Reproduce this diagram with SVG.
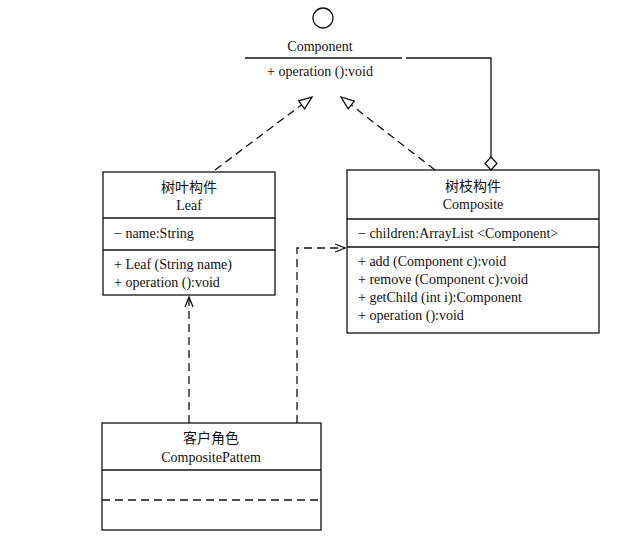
<svg xmlns="http://www.w3.org/2000/svg" width="638" height="539" viewBox="0 0 638 539">
<style>
text{font-family:"Liberation Serif","Noto Sans CJK SC",serif;font-size:14px;fill:#111}
.c{text-anchor:middle}
.b{fill:#fff;stroke:#111;stroke-width:1.3}
.l{stroke:#111;stroke-width:1.3;fill:none}
.d{stroke:#111;stroke-width:1.3;fill:none;stroke-dasharray:8 5}
</style>
<defs>
<marker id="tri" markerWidth="16" markerHeight="16" refX="14" refY="6" orient="auto" markerUnits="userSpaceOnUse"><path d="M1,1 L14,6 L1,11 Z" fill="#fff" stroke="#111" stroke-width="1.3"/></marker>
<marker id="open" markerWidth="14" markerHeight="14" refX="11" refY="5" orient="auto" markerUnits="userSpaceOnUse"><path d="M1,1 L11,5 L1,9" fill="none" stroke="#111" stroke-width="1.3"/></marker>
</defs>
<rect width="638" height="539" fill="#fff"/>
<g id="component">
<circle cx="323" cy="18" r="10" class="b"/>
<text x="320" y="51" class="c">Component</text>
<line x1="245" y1="58" x2="402" y2="58" class="l"/>
<text x="320" y="76" class="c">+ operation ():void</text>
</g>
<g id="leaf">
<rect x="103" y="172" width="172" height="123" class="b"/>
<line x1="103" y1="218" x2="275" y2="218" class="l"/>
<line x1="103" y1="250" x2="275" y2="250" class="l"/>
<text x="189" y="192" class="c">树叶构件</text>
<text x="189" y="210" class="c">Leaf</text>
<text x="114" y="238">− name:String</text>
<text x="114" y="269">+ Leaf (String name)</text>
<text x="114" y="287">+ operation ():void</text>
</g>
<g id="composite">
<rect x="347" y="170" width="252" height="163" class="b"/>
<line x1="347" y1="219" x2="599" y2="219" class="l"/>
<line x1="347" y1="247" x2="599" y2="247" class="l"/>
<text x="473" y="191" class="c">树枝构件</text>
<text x="473" y="209" class="c">Composite</text>
<text x="358" y="238">− children:ArrayList &lt;Component&gt;</text>
<text x="358" y="266">+ add (Component c):void</text>
<text x="358" y="284">+ remove (Component c):void</text>
<text x="358" y="302">+ getChild (int i):Component</text>
<text x="358" y="320">+ operation ():void</text>
</g>
<g id="client">
<rect x="102" y="423" width="219" height="107" class="b"/>
<line x1="102" y1="470" x2="321" y2="470" class="l"/>
<line x1="102" y1="500" x2="321" y2="500" class="d"/>
<text x="211" y="443" class="c">客户角色</text>
<text x="211" y="462" class="c">CompositePattem</text>
</g>
<g id="connectors">
<path d="M215,170 L312,97" class="d" marker-end="url(#tri)"/>
<path d="M435,170 L341,97" class="d" marker-end="url(#tri)"/>
<path d="M406,58 L491,58 L491,157" class="l"/>
<path d="M491,157 L497,163.5 L491,170 L485,163.5 Z" class="b"/>
<path d="M189,423 L189,297" class="d" marker-end="url(#open)"/>
<path d="M297,423 L297,248 L345,248" class="d" marker-end="url(#open)"/>
</g>
</svg>
